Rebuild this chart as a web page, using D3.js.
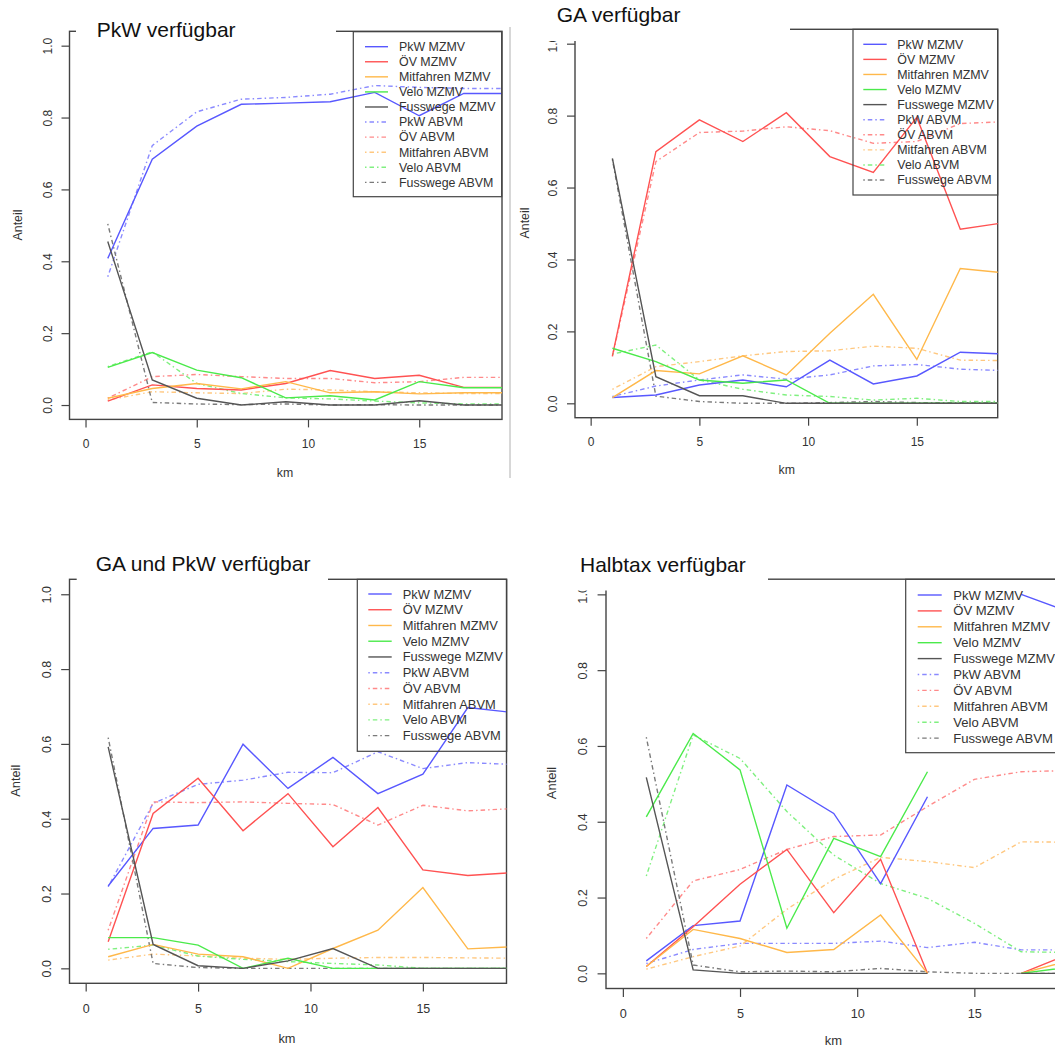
<!DOCTYPE html>
<html>
<head>
<meta charset="utf-8">
<script src="https://cdn.jsdelivr.net/npm/d3@7"></script>
<style>
  body { margin: 0; background: #fff; }
  text { font-family: 'Liberation Sans', Arial, sans-serif; fill: #222; }
</style>
</head>
<body>
<script>
(function() {
  'use strict';

  // distance classes (km)
  const km = [1, 3, 5, 7, 9, 11, 13, 15, 17, 19];
  const xTicks = [0, 5, 10, 15];
  const yTicks = [0, 0.2, 0.4, 0.6, 0.8, 1.0];
  const modes = ['PkW', 'ÖV', 'Mitfahren', 'Velo', 'Fusswege'];
  const titles = ['PkW verfügbar', 'GA verfügbar', 'GA und PkW verfügbar', 'Halbtax verfügbar'];

  // PkW verfügbar
  const pkwPkwMZMV = [0.408, 0.684, 0.776, 0.837, 0.840, 0.844, 0.870, 0.805, 0.867, 0.867];
  const pkwOevMZMV = [0.011, 0.056, 0.046, 0.042, 0.060, 0.096, 0.074, 0.083, 0.049, 0.049];
  const pkwMitMZMV = [0.019, 0.046, 0.060, 0.045, 0.065, 0.034, 0.037, 0.031, 0.034, 0.034];
  const pkwVeloMZMV = [0.105, 0.146, 0.097, 0.076, 0.020, 0.026, 0.014, 0.065, 0.048, 0.048];
  const pkwFussMZMV = [0.455, 0.070, 0.019, 0.000, 0.009, 0.000, 0.000, 0.012, 0.000, 0.000];
  const pkwPkwABVM = [0.357, 0.722, 0.816, 0.851, 0.856, 0.865, 0.889, 0.884, 0.881, 0.881];
  const pkwOevABVM = [0.019, 0.079, 0.085, 0.079, 0.074, 0.074, 0.062, 0.065, 0.077, 0.077];
  const pkwMitABVM = [0.014, 0.037, 0.034, 0.032, 0.044, 0.042, 0.037, 0.034, 0.032, 0.032];
  const pkwVeloABVM = [0.107, 0.148, 0.060, 0.032, 0.020, 0.017, 0.011, 0.006, 0.003, 0.003];
  const pkwFussABVM = [0.504, 0.007, 0.003, 0.001, 0.003, 0.000, 0.001, 0.000, 0.000, 0.000];

  // GA verfügbar
  const gaPkwMZMV = [0.016, 0.023, 0.051, 0.065, 0.046, 0.120, 0.054, 0.076, 0.142, 0.137];
  const gaOevMZMV = [0.132, 0.700, 0.788, 0.728, 0.808, 0.686, 0.642, 0.795, 0.484, 0.502];
  const gaMitMZMV = [0.016, 0.091, 0.082, 0.132, 0.079, 0.195, 0.303, 0.122, 0.375, 0.363];
  const gaVeloMZMV = [0.153, 0.116, 0.065, 0.056, 0.065, 0.000, 0.000, 0.000, 0.000, 0.000];
  const gaFussMZMV = [0.681, 0.074, 0.021, 0.021, 0.000, 0.000, 0.000, 0.000, 0.000, 0.000];
  const gaPkwABVM = [0.019, 0.048, 0.065, 0.079, 0.067, 0.079, 0.104, 0.108, 0.095, 0.091];
  const gaOevABVM = [0.130, 0.672, 0.753, 0.757, 0.769, 0.758, 0.723, 0.728, 0.778, 0.783];
  const gaMitABVM = [0.039, 0.102, 0.116, 0.132, 0.144, 0.146, 0.159, 0.153, 0.120, 0.119];
  const gaVeloABVM = [0.137, 0.162, 0.065, 0.039, 0.023, 0.019, 0.009, 0.014, 0.005, 0.005];
  const gaFussABVM = [0.678, 0.020, 0.005, 0.000, 0.000, 0.002, 0.005, 0.002, 0.002, 0.002];

  // GA und PkW verfügbar
  const bothPkwMZMV = [0.220, 0.374, 0.383, 0.599, 0.481, 0.564, 0.467, 0.519, 0.697, 0.684];
  const bothOevMZMV = [0.071, 0.414, 0.508, 0.368, 0.467, 0.325, 0.430, 0.263, 0.248, 0.256];
  const bothMitMZMV = [0.031, 0.064, 0.038, 0.031, 0.000, 0.053, 0.102, 0.216, 0.052, 0.058];
  const bothVeloMZMV = [0.082, 0.082, 0.062, 0.000, 0.027, 0.000, 0.000, 0.000, 0.000, 0.000];
  const bothFussMZMV = [0.592, 0.064, 0.007, 0.000, 0.020, 0.053, 0.000, 0.000, 0.000, 0.000];
  const bothPkwABVM = [0.218, 0.441, 0.492, 0.503, 0.524, 0.523, 0.579, 0.534, 0.550, 0.545];
  const bothOevABVM = [0.102, 0.445, 0.443, 0.445, 0.441, 0.438, 0.383, 0.436, 0.421, 0.427];
  const bothMitABVM = [0.022, 0.038, 0.033, 0.027, 0.024, 0.027, 0.029, 0.029, 0.028, 0.027];
  const bothVeloABVM = [0.051, 0.062, 0.033, 0.024, 0.018, 0.013, 0.009, 0.000, 0.000, 0.000];
  const bothFussABVM = [0.617, 0.013, 0.002, 0.000, 0.000, 0.000, 0.000, 0.000, 0.000, 0.000];

  // Halbtax verfügbar (no MZMV value at 15 km)
  const htPkwMZMV = [0.033, 0.126, 0.138, 0.497, 0.422, 0.237, 0.466, null, 1.000, 0.955];
  const htOevMZMV = [0.018, 0.123, 0.235, 0.327, 0.160, 0.301, 0.000, null, 0.000, 0.050];
  const htMitMZMV = [0.018, 0.116, 0.092, 0.055, 0.063, 0.154, 0.000, null, 0.000, 0.032];
  const htVeloMZMV = [0.413, 0.633, 0.537, 0.119, 0.356, 0.308, 0.532, null, 0.000, 0.016];
  const htFussMZMV = [0.517, 0.009, 0.000, 0.000, 0.000, 0.000, 0.000, null, 0.000, 0.000];
  const htPkwABVM = [0.026, 0.063, 0.079, 0.079, 0.079, 0.085, 0.068, 0.082, 0.062, 0.062];
  const htOevABVM = [0.092, 0.244, 0.274, 0.327, 0.361, 0.365, 0.440, 0.512, 0.532, 0.535];
  const htMitABVM = [0.011, 0.044, 0.072, 0.169, 0.248, 0.306, 0.295, 0.279, 0.347, 0.346];
  const htVeloABVM = [0.257, 0.629, 0.567, 0.427, 0.312, 0.237, 0.198, 0.132, 0.057, 0.055];
  const htFussABVM = [0.623, 0.022, 0.004, 0.006, 0.004, 0.013, 0.004, 0.000, 0.000, 0.000];

  const panelData = [
    { mzmv: [pkwPkwMZMV, pkwOevMZMV, pkwMitMZMV, pkwVeloMZMV, pkwFussMZMV],
      abvm: [pkwPkwABVM, pkwOevABVM, pkwMitABVM, pkwVeloABVM, pkwFussABVM] },
    { mzmv: [gaPkwMZMV, gaOevMZMV, gaMitMZMV, gaVeloMZMV, gaFussMZMV],
      abvm: [gaPkwABVM, gaOevABVM, gaMitABVM, gaVeloABVM, gaFussABVM] },
    { mzmv: [bothPkwMZMV, bothOevMZMV, bothMitMZMV, bothVeloMZMV, bothFussMZMV],
      abvm: [bothPkwABVM, bothOevABVM, bothMitABVM, bothVeloABVM, bothFussABVM] },
    { mzmv: [htPkwMZMV, htOevMZMV, htMitMZMV, htVeloMZMV, htFussMZMV],
      abvm: [htPkwABVM, htOevABVM, htMitABVM, htVeloABVM, htFussABVM] }
  ];

  // line colours: solid (MZMV) and dot-dash (ABVM)
  const solidColors = ['#5858ff', '#ff5252', '#ffb84a', '#4bea4b', '#555555'];
  const dashColors = ['#8a8aff', '#ff8a8a', '#ffc880', '#80f080', '#7a7a7a'];

  // where each panel sits on the page
  const layout = [
    { left: 69.5, right: 502, top: 31.3, bottom: 419.4, s: 1,
      title: [96.7, 36.7], cover: [76, 12, 336, 34.5],
      legend: [353.3, 31.7, 501.7, 196.7], row0: 46.7, step: 15.07, lx: [365, 388], tx: 399,
      ylab: [17.3, 225], xlab: [285, 472.7] },
    { left: 575, right: 997.7, top: 29.3, bottom: 417.7, s: 1,
      title: [556.7, 21.7], cover: [520, 0, 790, 41],
      legend: [853, 29.3, 997.7, 195], row0: 44.3, step: 15.08, lx: [863.3, 886.7], tx: 897.3,
      ylab: [524.5, 223], xlab: [786.7, 470] },
    { left: 69.5, right: 506.5, top: 579.3, bottom: 983.3, s: 1.04,
      title: [95.7, 570.7], cover: [76.7, 548, 328, 582],
      legend: [357.3, 579.3, 506.7, 751.3], row0: 594, step: 15.74, lx: [368.3, 391.7], tx: 402.7,
      ylab: [16, 780.7], xlab: [287, 1039] },
    { left: 606, right: 1061.5, top: 579.2, bottom: 988.5, s: 1.055,
      title: [580, 571.7], cover: [545, 548, 768, 590.5],
      legend: [905.7, 579.3, 1070, 752.7], row0: 595, step: 15.9, lx: [917.7, 941.7], tx: 953.3,
      ylab: [551.7, 783], xlab: [833.3, 1040.5] }
  ];

  let svgContainer = d3.select('body')
    .append('svg')
    .attr('width', 1055)
    .attr('height', 1048);

  svgContainer.append('rect')
    .attr('width', 1055)
    .attr('height', 1048)
    .attr('fill', '#fff');

  // thin separator between the two top panels
  svgContainer.append('line')
    .attr('x1', 510).attr('x2', 510)
    .attr('y1', 27).attr('y2', 478)
    .attr('stroke', '#b0b0b0')
    .attr('stroke-width', 1);

  layout.forEach((p, i) => drawPanel(p, panelData[i], titles[i], i));

  function drawPanel(p, d, title, idx) {
    let s = p.s;
    let g = svgContainer.append('g');

    let xScale = d3.scaleLinear().domain([-0.72, 18.72]).range([p.left, p.right]);
    let yScale = d3.scaleLinear().domain([-0.04, 1.04]).range([p.bottom, p.top]);

    // y axis with rotated labels
    let yAxis = g.append('g')
      .attr('transform', 'translate(' + p.left + ',0)')
      .call(d3.axisLeft(yScale).tickValues(yTicks).tickFormat(d3.format('.1f')).tickSize(8 * s));
    yAxis.select('.domain').remove();
    yAxis.selectAll('.tick line').attr('stroke', '#444').attr('stroke-width', 1.2);
    yAxis.selectAll('.tick text')
      .attr('x', 0)
      .attr('dy', 0)
      .attr('text-anchor', 'middle')
      .attr('transform', 'translate(' + (-18 * s) + ',0)rotate(-90)')
      .style('font-size', (12 * s) + 'px')
      .style('font-family', "'Liberation Sans', Arial, sans-serif")
      .style('fill', '#333');

    // x axis
    let xAxis = g.append('g')
      .attr('transform', 'translate(0,' + p.bottom + ')')
      .call(d3.axisBottom(xScale).tickValues(xTicks).tickSize(8 * s).tickPadding(11.8 * s));
    xAxis.select('.domain').remove();
    xAxis.selectAll('.tick line').attr('stroke', '#444').attr('stroke-width', 1.2);
    xAxis.selectAll('.tick text')
      .style('font-size', (12 * s) + 'px')
      .style('font-family', "'Liberation Sans', Arial, sans-serif")
      .style('fill', '#333');

    // plot box
    g.append('rect')
      .attr('x', p.left).attr('y', p.top)
      .attr('width', p.right - p.left).attr('height', p.bottom - p.top)
      .attr('fill', 'none')
      .attr('stroke', '#444')
      .attr('stroke-width', 1.4);

    // axis titles
    g.append('text')
      .attr('transform', 'translate(' + p.ylab[0] + ',' + p.ylab[1] + ')rotate(-90)')
      .attr('text-anchor', 'middle')
      .attr('dy', '0.35em')
      .style('font-size', (12.3 * s) + 'px')
      .style('fill', '#333')
      .text('Anteil');

    g.append('text')
      .attr('x', p.xlab[0]).attr('y', p.xlab[1])
      .attr('text-anchor', 'middle')
      .attr('dy', '0.35em')
      .style('font-size', (12.3 * s) + 'px')
      .style('fill', '#333')
      .text('km');

    // clip lines to the plot box
    let clipId = 'clip' + idx;
    g.append('clipPath').attr('id', clipId)
      .append('rect')
      .attr('x', p.left).attr('y', p.top)
      .attr('width', p.right - p.left).attr('height', p.bottom - p.top);

    let line = d3.line()
      .defined((v) => v[1] !== null)
      .x((v) => xScale(v[0]))
      .y((v) => yScale(v[1]));

    let lines = g.append('g').attr('clip-path', 'url(#' + clipId + ')');

    d.abvm.forEach((vals, k) => {
      lines.append('path')
        .datum(km.map((x, j) => [x, vals[j]]))
        .attr('d', line)
        .attr('fill', 'none')
        .attr('stroke', dashColors[k])
        .attr('stroke-width', 1.4)
        .attr('stroke-dasharray', '1.5,3,4.5,3');
    });

    d.mzmv.forEach((vals, k) => {
      lines.append('path')
        .datum(km.map((x, j) => [x, vals[j]]))
        .attr('d', line)
        .attr('fill', 'none')
        .attr('stroke', solidColors[k])
        .attr('stroke-width', 1.4);
    });

    drawLegend(g, p);

    // title sits on a white box over the top border
    svgContainer.append('rect')
      .attr('x', p.cover[0]).attr('y', p.cover[1])
      .attr('width', p.cover[2] - p.cover[0]).attr('height', p.cover[3] - p.cover[1])
      .attr('fill', '#fff');

    svgContainer.append('text')
      .attr('x', p.title[0]).attr('y', p.title[1])
      .style('font-size', '21px')
      .style('font-weight', 'normal')
      .style('fill', '#111')
      .text(title);
  }

  // legend with solid entries first, then the dot-dash ones
  function drawLegend(g, p) {
    let s = p.s;
    let L = p.legend;
    g.append('rect')
      .attr('x', L[0]).attr('y', L[1])
      .attr('width', L[2] - L[0]).attr('height', L[3] - L[1])
      .attr('fill', 'none')
      .attr('stroke', '#444')
      .attr('stroke-width', 1.2);

    let entries = modes.map((m, k) => ({ label: m + ' MZMV', color: solidColors[k], dash: null }))
      .concat(modes.map((m, k) => ({ label: m + ' ABVM', color: dashColors[k], dash: '1.5,3,4.5,3' })));

    entries.forEach((e, r) => {
      let y = p.row0 + r * p.step;
      g.append('line')
        .attr('x1', p.lx[0]).attr('x2', p.lx[1])
        .attr('y1', y).attr('y2', y)
        .attr('stroke', e.color)
        .attr('stroke-width', 1.4)
        .attr('stroke-dasharray', e.dash);
      g.append('text')
        .attr('x', p.tx).attr('y', y)
        .attr('dy', '0.35em')
        .style('font-size', (12.4 * s) + 'px')
        .style('fill', '#333')
        .text(e.label);
    });
  }
})();
</script>
</body>
</html>
